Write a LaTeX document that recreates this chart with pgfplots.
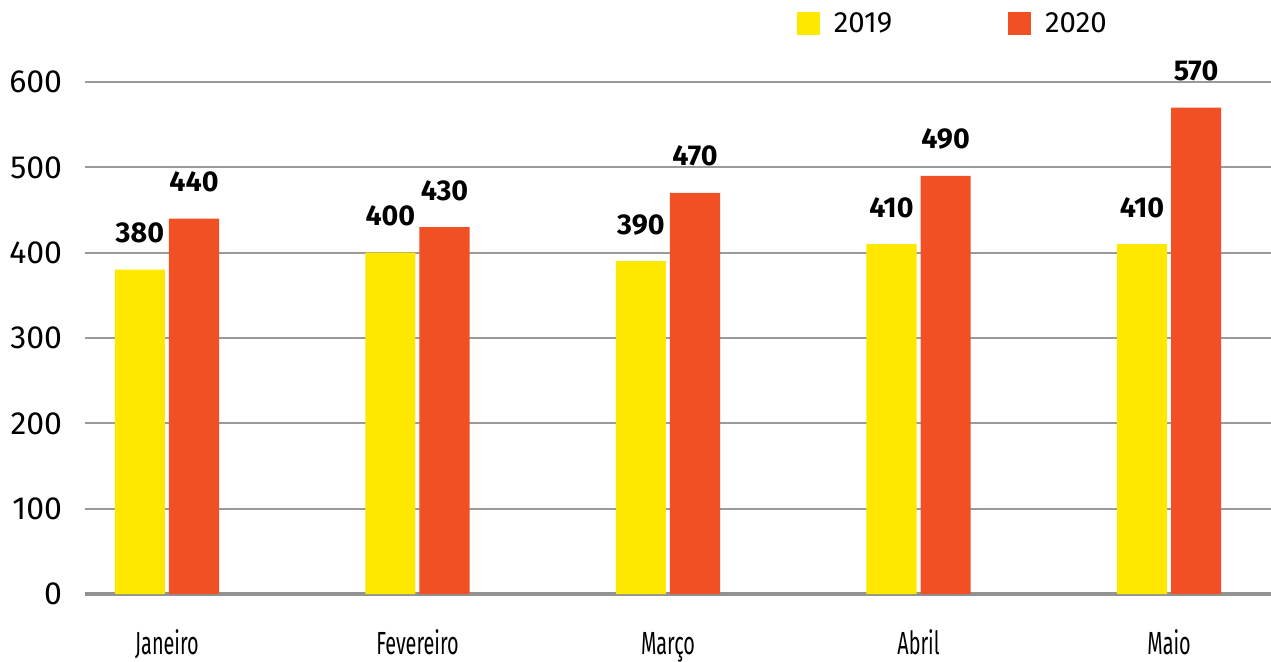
\documentclass[border=0pt]{standalone}
\usepackage{pgfplots}
\pgfplotsset{compat=1.18}
\usepackage{fontspec}
\setmainfont{Fira Sans}
\definecolor{cy}{HTML}{FFE800}
\definecolor{co}{HTML}{F05023}
\definecolor{gridc}{HTML}{9A9A9A}
\begin{document}
\begin{tikzpicture}
\begin{axis}[
  at={(0pt,0pt)}, anchor=south west,
  scale only axis,
  width=889.5pt, height=384pt,
  xmin=-0.327, xmax=4.407,
  ymin=0, ymax=600,
  ybar,
  bar width=0.2,
  axis line style={draw=none},
  major tick length=0pt,
  xtick={0,1,2,3,4},
  ytick={0,100,200,300,400,500,600},
  /pgf/number format/assume math mode=true,
  yticklabel style={font=\fontsize{24}{28}\selectfont, anchor=east, inner sep=0pt, xshift=-17pt},
  xticklabel style={font=\fontsize{24}{26}\selectfont, anchor=base, inner sep=0pt, yshift=-45pt},
  xticklabels={\scalebox{0.62}[1]{Janeiro},\scalebox{0.62}[1]{Fevereiro},\scalebox{0.62}[1]{Março},\scalebox{0.62}[1]{Abril},\scalebox{0.62}[1]{Maio}},
  ymajorgrids,
  grid style={line width=1.5pt, gridc},
  extra y ticks={0},
  extra y tick labels={},
  extra y tick style={grid style={line width=2.5pt, color=gridc!95!black}},
  clip=false,
  nodes near coords,
  every node near coord/.append style={font=\fontsize{21.5}{24}\selectfont\bfseries, anchor=base, inner sep=0pt, yshift=20.25pt},
  legend columns=2,
  legend style={at={(0.6003,1.1142)}, anchor=west, draw=none, fill=none,
    inner sep=0pt, outer sep=0pt,
    nodes={inner sep=0pt, font=\fontsize{22}{24}\selectfont},
    /tikz/every odd column/.append style={column sep=10.5pt},
    /tikz/every even column/.append style={column sep=87pt}},
  legend image code/.code={\fill[#1,draw=none] (0pt,-8.625pt) rectangle (17.25pt,8.625pt);},
]
\addplot[fill=cy, draw=none, bar shift=-0.108] coordinates {(0,380) (1,400) (2,390) (3,410) (4,410)};
\addplot[fill=co, draw=none, bar shift=0.108] coordinates {(0,440) (1,430) (2,470) (3,490) (4,570)};
\legend{2019,2020}
\end{axis}
\pgfresetboundingbox
\path (-63.75pt,-50.25pt) rectangle (889.5pt,445.5pt);
\end{tikzpicture}
\end{document}
